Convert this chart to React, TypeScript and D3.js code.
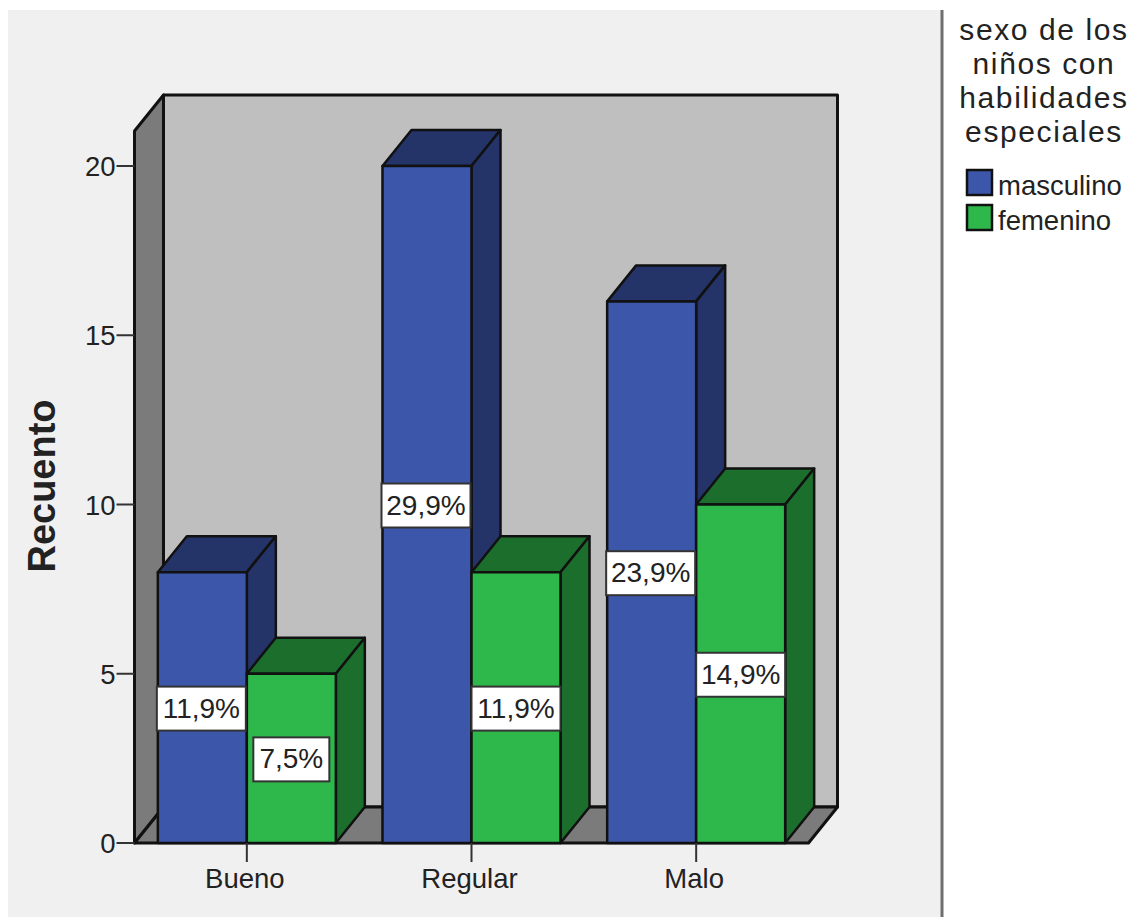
import React from "react";
import * as d3 from "d3";

const categories = ["Bueno", "Regular", "Malo"];
const seriesNames = ["masculino", "femenino"];
const masculino = [8, 20, 16];
const femenino = [5, 8, 10];
const masculinoPct = ["11,9%", "29,9%", "23,9%"];
const femeninoPct = ["7,5%", "11,9%", "14,9%"];
const yTicks = [0, 5, 10, 15, 20];
const legendTitle = ["sexo de los", "niños con", "habilidades", "especiales"];

const FRONT = ["#3c56aa", "#2eb84b"];
const SHADE = ["#243368", "#1c6e2d"];
const INK = "#111";
const FONT = "Liberation Sans, Arial, sans-serif";

const DX = 29;
const DY = -36;
const BAR_W = 89;

const x = d3.scaleBand<string>().domain(categories).range([134.5, 808.5]);
const y = d3.scaleLinear().domain([0, 20]).range([843, 166]);
const yTop = y(0) + DY;
const wallTop = 95;

const poly = (pts: [number, number][]) => d3.line()(pts) + "Z";

type Bar = { cat: string; s: number; v: number; pct: string };
const bars: Bar[] = categories.flatMap((cat, i) => [
  { cat, s: 0, v: masculino[i], pct: masculinoPct[i] },
  { cat, s: 1, v: femenino[i], pct: femeninoPct[i] },
]);

const barLeft = (b: Bar) => x(b.cat)! + x.bandwidth() / 2 + (b.s - 1) * BAR_W;

function Bar3D({ b }: { b: Bar }) {
  const l = barLeft(b);
  const r = l + BAR_W;
  const t = y(b.v);
  const z = y(0);
  return (
    <g stroke={INK} strokeWidth={2.5} strokeLinejoin="round">
      <path d={poly([[l, t], [l + DX, t + DY], [r + DX, t + DY], [r, t]])} fill={SHADE[b.s]} />
      <path d={poly([[r, t], [r + DX, t + DY], [r + DX, z + DY], [r, z]])} fill={SHADE[b.s]} />
      <path d={poly([[l, t], [r, t], [r, z], [l, z]])} fill={FRONT[b.s]} />
    </g>
  );
}

function ValueLabel({ b }: { b: Bar }) {
  const cx = barLeft(b) + BAR_W / 2 - (b.s === 0 ? 1 : 0);
  const cy = y(b.v / 2);
  const w = b.pct.length > 4 ? 89 : 76;
  const h = 44;
  return (
    <g>
      <rect x={cx - w / 2} y={cy - h / 2 + 1} width={w} height={h} fill="#fff" stroke="#333" strokeWidth={2} />
      <text x={cx} y={cy + 10} textAnchor="middle" fontSize={28} fill="#222" fontFamily={FONT}>{b.pct}</text>
    </g>
  );
}

export default function App() {
  const left = x.range()[0];
  const right = x.range()[1];
  return (
    <svg width={1134} height={917} style={{ position: "absolute", left: 0, top: 0, background: "#fff" }}>
      <rect x={8} y={10} width={934} height={907} fill="#f0f0f0" />
      <line x1={942} x2={942} y1={10} y2={917} stroke="#6e6e6e" strokeWidth={3} />

      {/* back wall, side wall and floor of the 3D box */}
      <g stroke={INK} strokeWidth={3} strokeLinejoin="round">
        <path d={poly([[left + DX, wallTop], [right + DX, wallTop], [right + DX, yTop], [left + DX, yTop]])} fill="#bfbfbf" />
        <path d={poly([[left, wallTop - DY], [left + DX, wallTop], [left + DX, yTop], [left, y(0)]])} fill="#7b7b7b" />
        <path d={poly([[left, y(0)], [left + DX, yTop], [right + DX, yTop], [right, y(0)]])} fill="#7b7b7b" />
      </g>

      {bars.map((b) => <Bar3D key={b.cat + b.s} b={b} />)}
      {bars.map((b) => <ValueLabel key={b.cat + b.s} b={b} />)}

      {/* axes */}
      <g stroke="#333" strokeWidth={2}>
        {yTicks.map((t) => <line key={t} x1={left - 18} x2={left} y1={y(t)} y2={y(t)} />)}
        {categories.map((c) => (
          <line key={c} x1={x(c)! + x.bandwidth() / 2} x2={x(c)! + x.bandwidth() / 2} y1={y(0)} y2={y(0) + 19} />
        ))}
      </g>
      <g fontFamily={FONT} fontSize={27.5} fill="#222">
        {yTicks.map((t) => (
          <text key={t} x={left - 19} y={y(t) + 10} textAnchor="end">{t}</text>
        ))}
        {categories.map((c) => (
          <text key={c} x={x(c)! + x.bandwidth() / 2 - 2} y={888} textAnchor="middle">{c}</text>
        ))}
      </g>
      <text
        transform="translate(55,486) rotate(-90)"
        textAnchor="middle"
        fontFamily={FONT}
        fontSize={38}
        fontWeight="bold"
        fill="#222"
      >
        Recuento
      </text>

      {/* legend */}
      <g fontFamily={FONT} fontSize={30} fill="#222" textAnchor="middle" letterSpacing={1.6}>
        {legendTitle.map((line, i) => (
          <text key={line} x={1044} y={40 + i * 34}>{line}</text>
        ))}
      </g>
      {seriesNames.map((s, i) => (
        <g key={s}>
          <rect x={967} y={170 + i * 35} width={25} height={25} fill={FRONT[i]} stroke={INK} strokeWidth={2.5} />
          <text x={998} y={195 + i * 35} fontFamily={FONT} fontSize={27.5} fill="#222">{s}</text>
        </g>
      ))}
    </svg>
  );
}
